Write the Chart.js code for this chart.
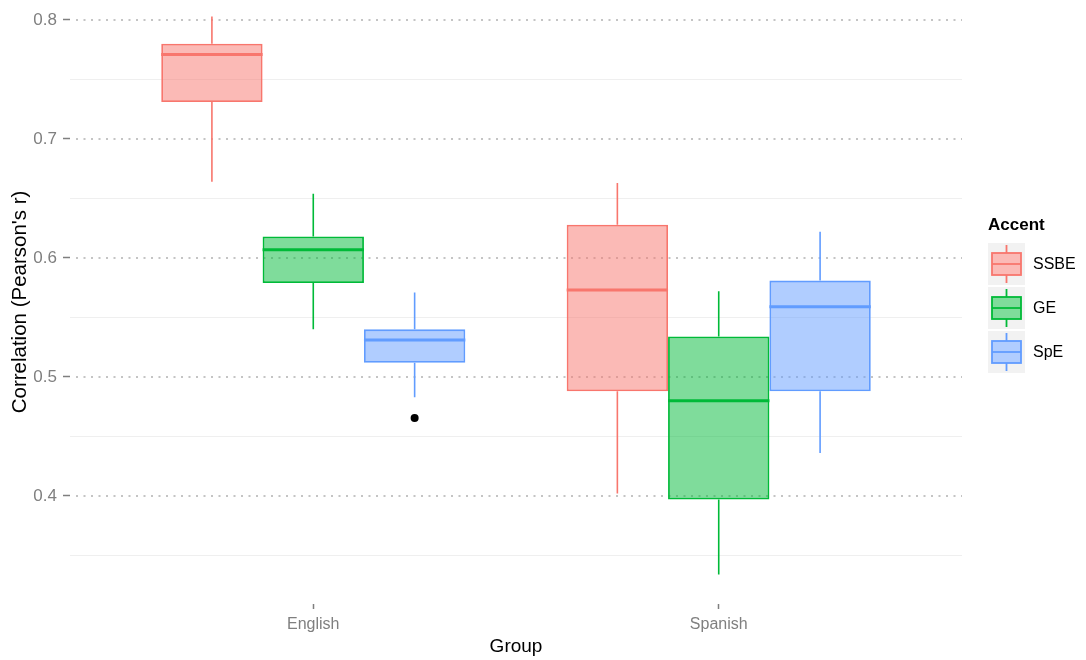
<!DOCTYPE html>
<html>
<head>
<meta charset="utf-8">
<script src="https://cdn.jsdelivr.net/npm/chart.js@4.4.0/dist/chart.umd.min.js"></script>
<style>
  html, body { margin: 0; padding: 0; background: #fff; }
  #wrap { width: 1086px; height: 660px; position: relative; }
</style>
</head>
<body>
<div id="wrap"><canvas id="boxChart"></canvas></div>
<script>
// groups on the x axis, one box per accent inside each group
const groups = ["English", "Spanish"];
const accents = ["SSBE", "GE", "SpE"];
const colors = ["#F8766D", "#00BA38", "#619CFF"];
const fills = ["rgba(248,118,109,0.5)", "rgba(0,186,56,0.5)", "rgba(97,156,255,0.5)"];

// box stats per accent, one entry per group: [English, Spanish]
const whiskerLow = [[0.664, 0.402], [0.540, 0.334], [0.483, 0.436]];
const q1 = [[0.731, 0.488], [0.579, 0.397], [0.512, 0.488]];
const median = [[0.771, 0.573], [0.607, 0.480], [0.531, 0.559]];
const q3 = [[0.780, 0.628], [0.618, 0.534], [0.540, 0.581]];
const whiskerHigh = [[0.803, 0.663], [0.654, 0.572], [0.571, 0.622]];
const outliers = [[[], []], [[], []], [[0.4655], []]];

const yMajor = [0.4, 0.5, 0.6, 0.7, 0.8];
const yMinor = [0.35, 0.45, 0.55, 0.65, 0.75];

const fontFamily = "'Liberation Sans', Arial, Helvetica, sans-serif";

// whiskers + panel grid under the boxes, medians and outliers on top
const boxPlugin = {
  id: "boxExtras",
  beforeDatasetsDraw(chart) {
    const { ctx, chartArea, scales } = chart;
    const y = scales.y;
    ctx.save();
    ctx.lineWidth = 1;
    ctx.strokeStyle = "#EFEFEF";
    yMinor.forEach(v => {
      const py = Math.round(y.getPixelForValue(v)) + 0.5;
      ctx.beginPath();
      ctx.moveTo(chartArea.left, py);
      ctx.lineTo(chartArea.right, py);
      ctx.stroke();
    });
    ctx.strokeStyle = "#C4C4C4";
    ctx.lineWidth = 2;
    ctx.setLineDash([2, 5.5]);
    yMajor.forEach(v => {
      const py = y.getPixelForValue(v);
      ctx.beginPath();
      ctx.moveTo(chartArea.left + 6, py);
      ctx.lineTo(chartArea.right, py);
      ctx.stroke();
    });
    ctx.setLineDash([]);

    accents.forEach((a, i) => {
      const meta = chart.getDatasetMeta(i);
      ctx.strokeStyle = colors[i];
      ctx.lineWidth = 1.6;
      meta.data.forEach((bar, j) => {
        const x = bar.x;
        ctx.beginPath();
        ctx.moveTo(x, y.getPixelForValue(whiskerHigh[i][j]));
        ctx.lineTo(x, y.getPixelForValue(q3[i][j]));
        ctx.moveTo(x, y.getPixelForValue(q1[i][j]));
        ctx.lineTo(x, y.getPixelForValue(whiskerLow[i][j]));
        ctx.stroke();
      });
    });
    ctx.restore();
  },
  afterDatasetsDraw(chart) {
    const { ctx, scales } = chart;
    const y = scales.y;
    ctx.save();
    accents.forEach((a, i) => {
      const meta = chart.getDatasetMeta(i);
      meta.data.forEach((bar, j) => {
        const half = bar.width / 2;
        const py = y.getPixelForValue(median[i][j]);
        ctx.strokeStyle = colors[i];
        ctx.lineWidth = 3;
        ctx.beginPath();
        ctx.moveTo(bar.x - half, py);
        ctx.lineTo(bar.x + half, py);
        ctx.stroke();
        ctx.fillStyle = "#000";
        outliers[i][j].forEach(v => {
          ctx.beginPath();
          ctx.arc(bar.x, y.getPixelForValue(v), 4, 0, Math.PI * 2);
          ctx.fill();
        });
      });
    });
    ctx.restore();
  },
  afterDraw(chart) {
    // legend drawn by hand so the keys look like little boxplots
    const { ctx } = chart;
    const left = 988, keyW = 37, keyH = 42, top0 = 243, step = 44;
    ctx.save();
    ctx.fillStyle = "#000";
    ctx.font = "bold 17px " + fontFamily;
    ctx.textBaseline = "middle";
    ctx.fillText("Accent", left, 225);
    accents.forEach((a, i) => {
      const top = top0 + i * step;
      const cx = left + keyW / 2;
      ctx.fillStyle = "#F2F2F2";
      ctx.fillRect(left, top, keyW, keyH);
      ctx.strokeStyle = colors[i];
      ctx.lineWidth = 1.8;
      ctx.beginPath();
      ctx.moveTo(cx, top + 2);
      ctx.lineTo(cx, top + keyH - 2);
      ctx.stroke();
      ctx.fillStyle = "#fff";
      ctx.fillRect(left + 4, top + 10, keyW - 8, keyH - 20);
      ctx.fillStyle = fills[i];
      ctx.fillRect(left + 4, top + 10, keyW - 8, keyH - 20);
      ctx.strokeRect(left + 4, top + 10, keyW - 8, keyH - 20);
      ctx.beginPath();
      ctx.moveTo(left + 4, top + keyH / 2);
      ctx.lineTo(left + keyW - 4, top + keyH / 2);
      ctx.stroke();
      ctx.fillStyle = "#000";
      ctx.font = "16px " + fontFamily;
      ctx.fillText(a, left + keyW + 8, top + keyH / 2 + 1);
    });
    ctx.restore();
  }
};

const datasets = accents.map((a, i) => ({
  label: a,
  data: groups.map((g, j) => ({ x: j + 1, y: [q1[i][j], q3[i][j]] })),
  backgroundColor: fills[i],
  borderColor: colors[i],
  borderWidth: 1.8,
  borderSkipped: false,
  categoryPercentage: 0.75,
  barPercentage: 1.0
}));

const ctx = document.getElementById("boxChart").getContext("2d");
new Chart(ctx, {
  type: "bar",
  data: { datasets },
  options: {
    responsive: true,
    maintainAspectRatio: false,
    animation: false,
    events: [],
    layout: { padding: { left: 0, right: 124, top: 0, bottom: 0 } },
    plugins: {
      legend: { display: false },
      tooltip: { enabled: false }
    },
    scales: {
      x: {
        type: "linear",
        min: 0.4,
        max: 2.6,
        offset: false,
        afterBuildTicks: s => { s.ticks = groups.map((g, j) => ({ value: j + 1 })); },
        afterFit: s => { s.height = 56; s.paddingLeft = 0; s.paddingRight = 0; },
        grid: { offset: false, drawOnChartArea: false, tickColor: "#7F7F7F", tickWidth: 1.5, tickLength: 5 },
        border: { display: false },
        ticks: {
          autoSkip: false,
          maxRotation: 0,
          padding: 6,
          color: "#7F7F7F",
          font: { family: fontFamily, size: 16 },
          callback: v => groups[Math.round(v) - 1]
        },
        title: {
          display: true,
          text: "Group",
          color: "#000",
          font: { family: fontFamily, size: 19 },
          padding: { top: 0, bottom: 2 }
        }
      },
      y: {
        min: 0.3092,
        max: 0.8168,
        afterBuildTicks: s => { s.ticks = yMajor.map(v => ({ value: v })); },
        afterFit: s => { s.width = 70; s.paddingTop = 0; s.paddingBottom = 0; },
        grid: { drawOnChartArea: false, tickColor: "#7F7F7F", tickWidth: 1.5, tickLength: 7 },
        border: { display: false },
        ticks: {
          padding: 6,
          color: "#7F7F7F",
          font: { family: fontFamily, size: 17 },
          callback: v => v.toFixed(1)
        },
        title: {
          display: true,
          text: "Correlation (Pearson's r)",
          color: "#000",
          font: { family: fontFamily, size: 20.5 },
          padding: { top: 8, bottom: 0 }
        }
      }
    }
  },
  plugins: [boxPlugin]
});
</script>
</body>
</html>
